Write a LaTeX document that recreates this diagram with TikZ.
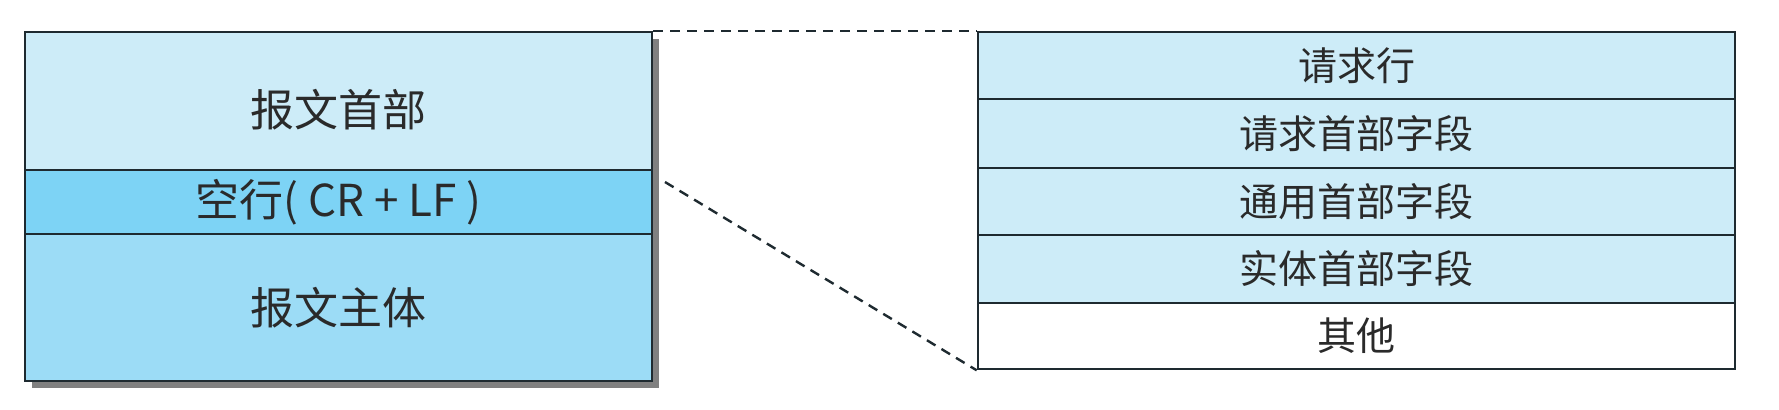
\documentclass[tikz,border=0pt]{standalone}
\usepackage{fontspec}
\setmainfont{Noto Sans CJK SC}
\definecolor{hdrblue}{HTML}{CDECF8}
\definecolor{blankblue}{HTML}{7DD3F5}
\definecolor{bodyblue}{HTML}{9CDCF6}
\definecolor{edgegray}{HTML}{1E2A30}
\definecolor{textgray}{HTML}{2A2A2A}
\tikzset{
  row/.style={rectangle, draw=edgegray, line width=1.3pt, inner sep=0pt, text=textgray, font=\fontsize{22}{26}\selectfont},
  leftrow/.style={row, minimum width=313.5pt},
  rightrow/.style={row, minimum width=378.5pt, font=\fontsize{19.5}{23}\selectfont},
  zoomline/.style={draw=edgegray, line width=1.2pt, dash pattern=on 5pt off 3.5pt}
}
\begin{document}
\begin{tikzpicture}[x=0.5pt, y=-0.5pt]
        \useasboundingbox (0,0) rectangle (1779,409);
        % shadow of the message box
        \fill[black!50] (32,39) rectangle (659,388);

        % HTTP message
        \node[leftrow, fill=hdrblue, minimum height=69pt, text height=30pt, text depth=5pt] (hdr) at (338.5,101) {报文首部};
        \node[leftrow, fill=blankblue, minimum height=32pt] (blank) at (338.5,202) {空行( CR + LF )};
        \node[leftrow, fill=bodyblue, minimum height=73.5pt] (body) at (338.5,307.5) {报文主体};

        % header fields
        \node[rightrow, fill=hdrblue, minimum height=33.5pt] (reqline) at (1356.5,65.5) {请求行};
        \node[rightrow, fill=hdrblue, minimum height=34.5pt] (reqhdr) at (1356.5,133.5) {请求首部字段};
        \node[rightrow, fill=hdrblue, minimum height=33.5pt] (genhdr) at (1356.5,201.5) {通用首部字段};
        \node[rightrow, fill=hdrblue, minimum height=34pt] (enthdr) at (1356.5,269) {实体首部字段};
        \node[rightrow, fill=white, minimum height=33pt] (other) at (1356.5,336) {其他};

        \coordinate (cut) at (665,182);
        \draw[zoomline] (hdr.north east) -- (reqline.north west);
        \draw[zoomline] (cut) -- (other.south west);
    \end{tikzpicture}
\end{document}
